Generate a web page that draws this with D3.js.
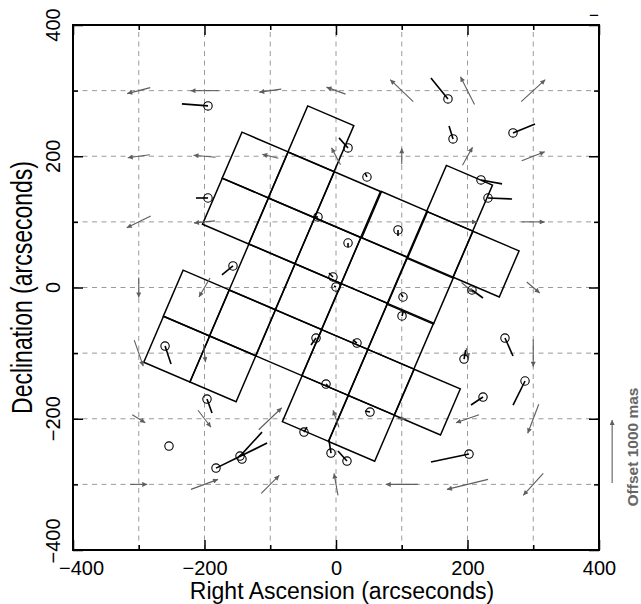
<!DOCTYPE html>
<html>
<head>
<meta charset="UTF-8">
<title></title>
<style>
body{margin:0;background:#fff;}
svg text{font-family:"Liberation Sans",Arial,Helvetica,sans-serif;}
</style>
</head>
<body>
<script src="https://d3js.org/d3.v7.min.js"></script>
<script>
var width = 641, height = 604;

// axis ticks
var majorTicks = [-400, -200, 0, 200, 400];
var minorTicks = [-300, -100, 100, 300];
var gridVals = [-300, -200, -100, 0, 100, 200, 300];

// CCD chip centres (arcsec), chip size (arcsec) and rotation (deg)
var chipRA  = [-23.0, 187.9,
               -123.0, -52.8, 17.5, 89.3, 158.0, 228.3,
               -152.9, -82.6, -12.3, 58.0, 128.2,
               -112.4, -42.1, 28.2, 98.4,
               -212.5, -142.2, -71.9, -1.7, 68.6, 138.9,
               -242.3, -172.0, -31.5, 38.8];
var chipDec = [226.6, 136.0,
               186.6, 156.5, 126.3, 96.1, 65.9, 35.7,
               116.5, 86.3, 56.2, 26.0, -5.7,
               16.2, -14.0, -44.2, -74.3,
               -23.7, -53.9, -84.1, -114.3, -144.4, -174.6,
               -93.9, -124.0, -184.4, -214.6];
var chipSize = 76.3;
var chipAngle = -23.2;

// field vectors on the grid (arcsec position, offset in mas)
var gridRA   = [-300,-200,-100,0,100,200,300,
                -300,-200,-100,0,100,200,300,
                -300,-200,200,300,
                -300,-200,200,300,
                -300,-200,200,300,
                -300,-200,-100,0,100,200,300,
                -300,-200,-100,0,100,200,300];
var gridDec  = [300,300,300,300,300,300,300,
                200,200,200,200,200,200,200,
                100,100,100,100,
                0,0,0,0,
                -100,-100,-100,-100,
                -200,-200,-200,-200,-200,-200,-200,
                -300,-300,-300,-300,-300,-300,-300];
var gridDRA  = [-365,-444,-349,-302,-365,-222,381,
                -349,-349,-254,-143,0,159,365,
                -381,-333,302,365,
                0,-175,190,206,
                143,32,40,0,
                206,206,365,-95,127,-365,-175,
                270,429,286,-63,-508,-651,-317];
var gridDDec = [-95,0,-48,111,349,444,349,
                -48,32,63,270,254,286,143,
                -190,-32,0,0,
                -317,-302,-159,-175,
                -413,-286,-159,-429,
                -127,-270,349,270,0,-127,-460,
                0,159,286,349,0,-159,-349];

// stars with their measured offsets (arcsec position, offset in mas)
var starRA   = [-194.7,-194.7,-156.7,170.3,178.0,269.2,18.3,47.1,220.5,231.2,94.3,18.3,
                -27.4,-4.6,0.0,206.8,101.9,100.4,257.0,194.7,31.9,-30.4,-15.2,287.5,
                223.6,51.7,202.3,-7.6,16.7,-48.7,-260.0,-196.2,-254.0,-182.5,-146.0,-143.0];
var starDec  = [276.7,136.4,32.8,287.3,226.4,235.5,212.7,168.4,163.9,136.4,87.7,67.8,
                107.5,16.0,0.8,-3.8,-14.5,-43.4,-77.0,-109.0,-84.6,-77.0,-147.1,-142.5,
                -166.9,-189.8,-253.8,-252.3,-264.5,-220.3,-89.2,-170.0,-241.6,-275.2,-256.9,-261.4];
var starDRA  = [-413,-190,-175,-270,-63,349,-143,-32,333,381,0,0,
                -79,-63,-30,175,-32,16,127,27,-63,-79,48,-190,
                -190,-79,-603,-32,-143,48,95,79,0,809,349,0];
var starDDec = [32,0,-143,333,206,143,159,63,-63,-16,-95,-63,
                0,63,16,-127,48,63,-286,143,48,-111,-48,-381,
                -127,16,-127,206,159,79,-286,-222,0,397,381,0];

// scale bar for the offsets
var keyRA = 420, keyDec = -298, keyMas = 1000;
var masScale = 0.096;   // arcsec on the plot per mas of offset

var svg = d3.select("body").append("svg")
            .attr("width", width)
            .attr("height", height);

var x = d3.scaleLinear().domain([-400, 400]).range([73, 599]);
var y = d3.scaleLinear().domain([-400, 400]).range([550, 25]);

var defs = svg.append("defs");
defs.append("marker")
    .attr("id", "head")
    .attr("viewBox", "0 0 10 10")
    .attr("refX", 10).attr("refY", 5)
    .attr("markerWidth", 8).attr("markerHeight", 5)
    .attr("markerUnits", "userSpaceOnUse")
    .attr("orient", "auto")
  .append("path")
    .attr("d", "M0,0L10,5L0,10z")
    .attr("fill", "#5e5e5e");

// dashed grid
var grid = svg.append("g").attr("stroke", "#9a9a9a").attr("stroke-width", 1)
              .attr("stroke-dasharray", "5,4.5");
grid.selectAll(".gx").data(gridVals).enter().append("line")
    .attr("x1", function(d){ return x(d); }).attr("x2", function(d){ return x(d); })
    .attr("y1", y(-400)).attr("y2", y(400));
grid.selectAll(".gy").data(gridVals).enter().append("line")
    .attr("y1", function(d){ return y(d); }).attr("y2", function(d){ return y(d); })
    .attr("x1", x(-400)).attr("x2", x(400));

// chips
var rad = chipAngle * Math.PI / 180;
var ux = Math.cos(rad), uy = Math.sin(rad), vx = -uy, vy = ux, half = chipSize / 2;
var chipLine = d3.line().x(function(p){ return x(p[0]); }).y(function(p){ return y(p[1]); });
svg.append("g").selectAll("path").data(chipRA).enter().append("path")
    .attr("d", function(d, i){
        var cx = chipRA[i], cy = chipDec[i];
        var pts = [[-1,-1],[1,-1],[1,1],[-1,1]].map(function(c){
            return [cx + half * (c[0] * ux + c[1] * vx), cy + half * (c[0] * uy + c[1] * vy)];
        });
        return chipLine(pts) + "Z";
    })
    .attr("fill", "none").attr("stroke", "#000").attr("stroke-width", 1.5);

// field arrows
svg.append("g").selectAll("line").data(gridRA).enter().append("line")
    .attr("x1", function(d, i){ return x(gridRA[i] - masScale * gridDRA[i] / 2); })
    .attr("y1", function(d, i){ return y(gridDec[i] - masScale * gridDDec[i] / 2); })
    .attr("x2", function(d, i){ return x(gridRA[i] + masScale * gridDRA[i] / 2); })
    .attr("y2", function(d, i){ return y(gridDec[i] + masScale * gridDDec[i] / 2); })
    .attr("stroke", "#5e5e5e").attr("stroke-width", 1.1)
    .attr("marker-end", "url(#head)");

// stars
var stars = svg.append("g");
stars.selectAll("line").data(starRA).enter().append("line")
    .attr("x1", function(d, i){ return x(starRA[i]); })
    .attr("y1", function(d, i){ return y(starDec[i]); })
    .attr("x2", function(d, i){ return x(starRA[i] + masScale * starDRA[i]); })
    .attr("y2", function(d, i){ return y(starDec[i] + masScale * starDDec[i]); })
    .attr("stroke", "#000").attr("stroke-width", 1.6);
stars.selectAll("circle").data(starRA).enter().append("circle")
    .attr("cx", function(d, i){ return x(starRA[i]); })
    .attr("cy", function(d, i){ return y(starDec[i]); })
    .attr("r", 4.2)
    .attr("fill", "none").attr("stroke", "#000").attr("stroke-width", 1.1);

// frame
svg.append("rect")
    .attr("x", x(-400)).attr("y", y(400))
    .attr("width", x(400) - x(-400)).attr("height", y(-400) - y(400))
    .attr("fill", "none").attr("stroke", "#000").attr("stroke-width", 2);

// ticks (inward)
function tickAxis(axis, vals, size, tr){
    var g = svg.append("g").attr("transform", tr)
        .call(axis.tickValues(vals).tickSizeInner(-size).tickSizeOuter(0).tickFormat(""));
    g.select(".domain").remove();
    g.selectAll("line").attr("stroke-width", 1.5);
    return g;
}
tickAxis(d3.axisBottom(x), minorTicks, 5, "translate(0," + y(-400) + ")");
tickAxis(d3.axisTop(x), minorTicks, 5, "translate(0," + y(400) + ")");
tickAxis(d3.axisLeft(y), minorTicks, 5, "translate(" + x(-400) + ",0)");
tickAxis(d3.axisRight(y), minorTicks, 5, "translate(" + x(400) + ",0)");
tickAxis(d3.axisTop(x), majorTicks, 10, "translate(0," + y(400) + ")");
tickAxis(d3.axisLeft(y), majorTicks, 10, "translate(" + x(-400) + ",0)");
tickAxis(d3.axisRight(y), majorTicks, 10, "translate(" + x(400) + ",0)");

var xAxis = svg.append("g").attr("transform", "translate(0," + y(-400) + ")")
    .call(d3.axisBottom(x).tickValues(majorTicks).tickSizeInner(-10).tickSizeOuter(0).tickPadding(11));
xAxis.select(".domain").remove();
xAxis.selectAll("line").attr("stroke-width", 1.5);
xAxis.selectAll("text")
    .attr("font-size", 20).attr("fill", "#000")
    .attr("font-family", "'Liberation Sans', Arial, sans-serif")
    .attr("dx", function(d){ return d === -400 ? 8 : 0; });

// y tick labels, rotated
var fmt = d3.format("");
svg.append("g").selectAll("text").data(majorTicks).enter().append("text")
    .attr("transform", function(d){
        return "translate(60," + (y(d) + (d === -400 ? -9 : 0)) + ") rotate(-90)";
    })
    .attr("text-anchor", "middle")
    .attr("font-size", 20)
    .text(function(d){ return fmt(d); });

// axis titles
svg.append("text")
    .attr("x", 342).attr("y", 599)
    .attr("text-anchor", "middle")
    .attr("font-size", 23)
    .text("Right Ascension (arcseconds)");
svg.append("text")
    .attr("transform", "translate(32," + y(0) + ") scale(1.25,1) rotate(-90)")
    .attr("text-anchor", "middle")
    .attr("font-size", 23)
    .text("Declination (arcseconds)");

// offset key
svg.append("line")
    .attr("x1", x(keyRA)).attr("x2", x(keyRA))
    .attr("y1", y(keyDec)).attr("y2", y(keyDec + masScale * keyMas))
    .attr("stroke", "#5e5e5e").attr("stroke-width", 1.1)
    .attr("marker-end", "url(#head)");
svg.append("text")
    .attr("transform", "translate(638,447) rotate(-90)")
    .attr("text-anchor", "middle")
    .attr("font-size", 15.5).attr("font-weight", "bold")
    .attr("fill", "#666")
    .text("Offset " + keyMas + " mas");

svg.append("text")
    .attr("x", 594).attr("y", 21)
    .attr("text-anchor", "middle")
    .attr("font-size", 17)
    .text("\u2212");
</script>
</body>
</html>
